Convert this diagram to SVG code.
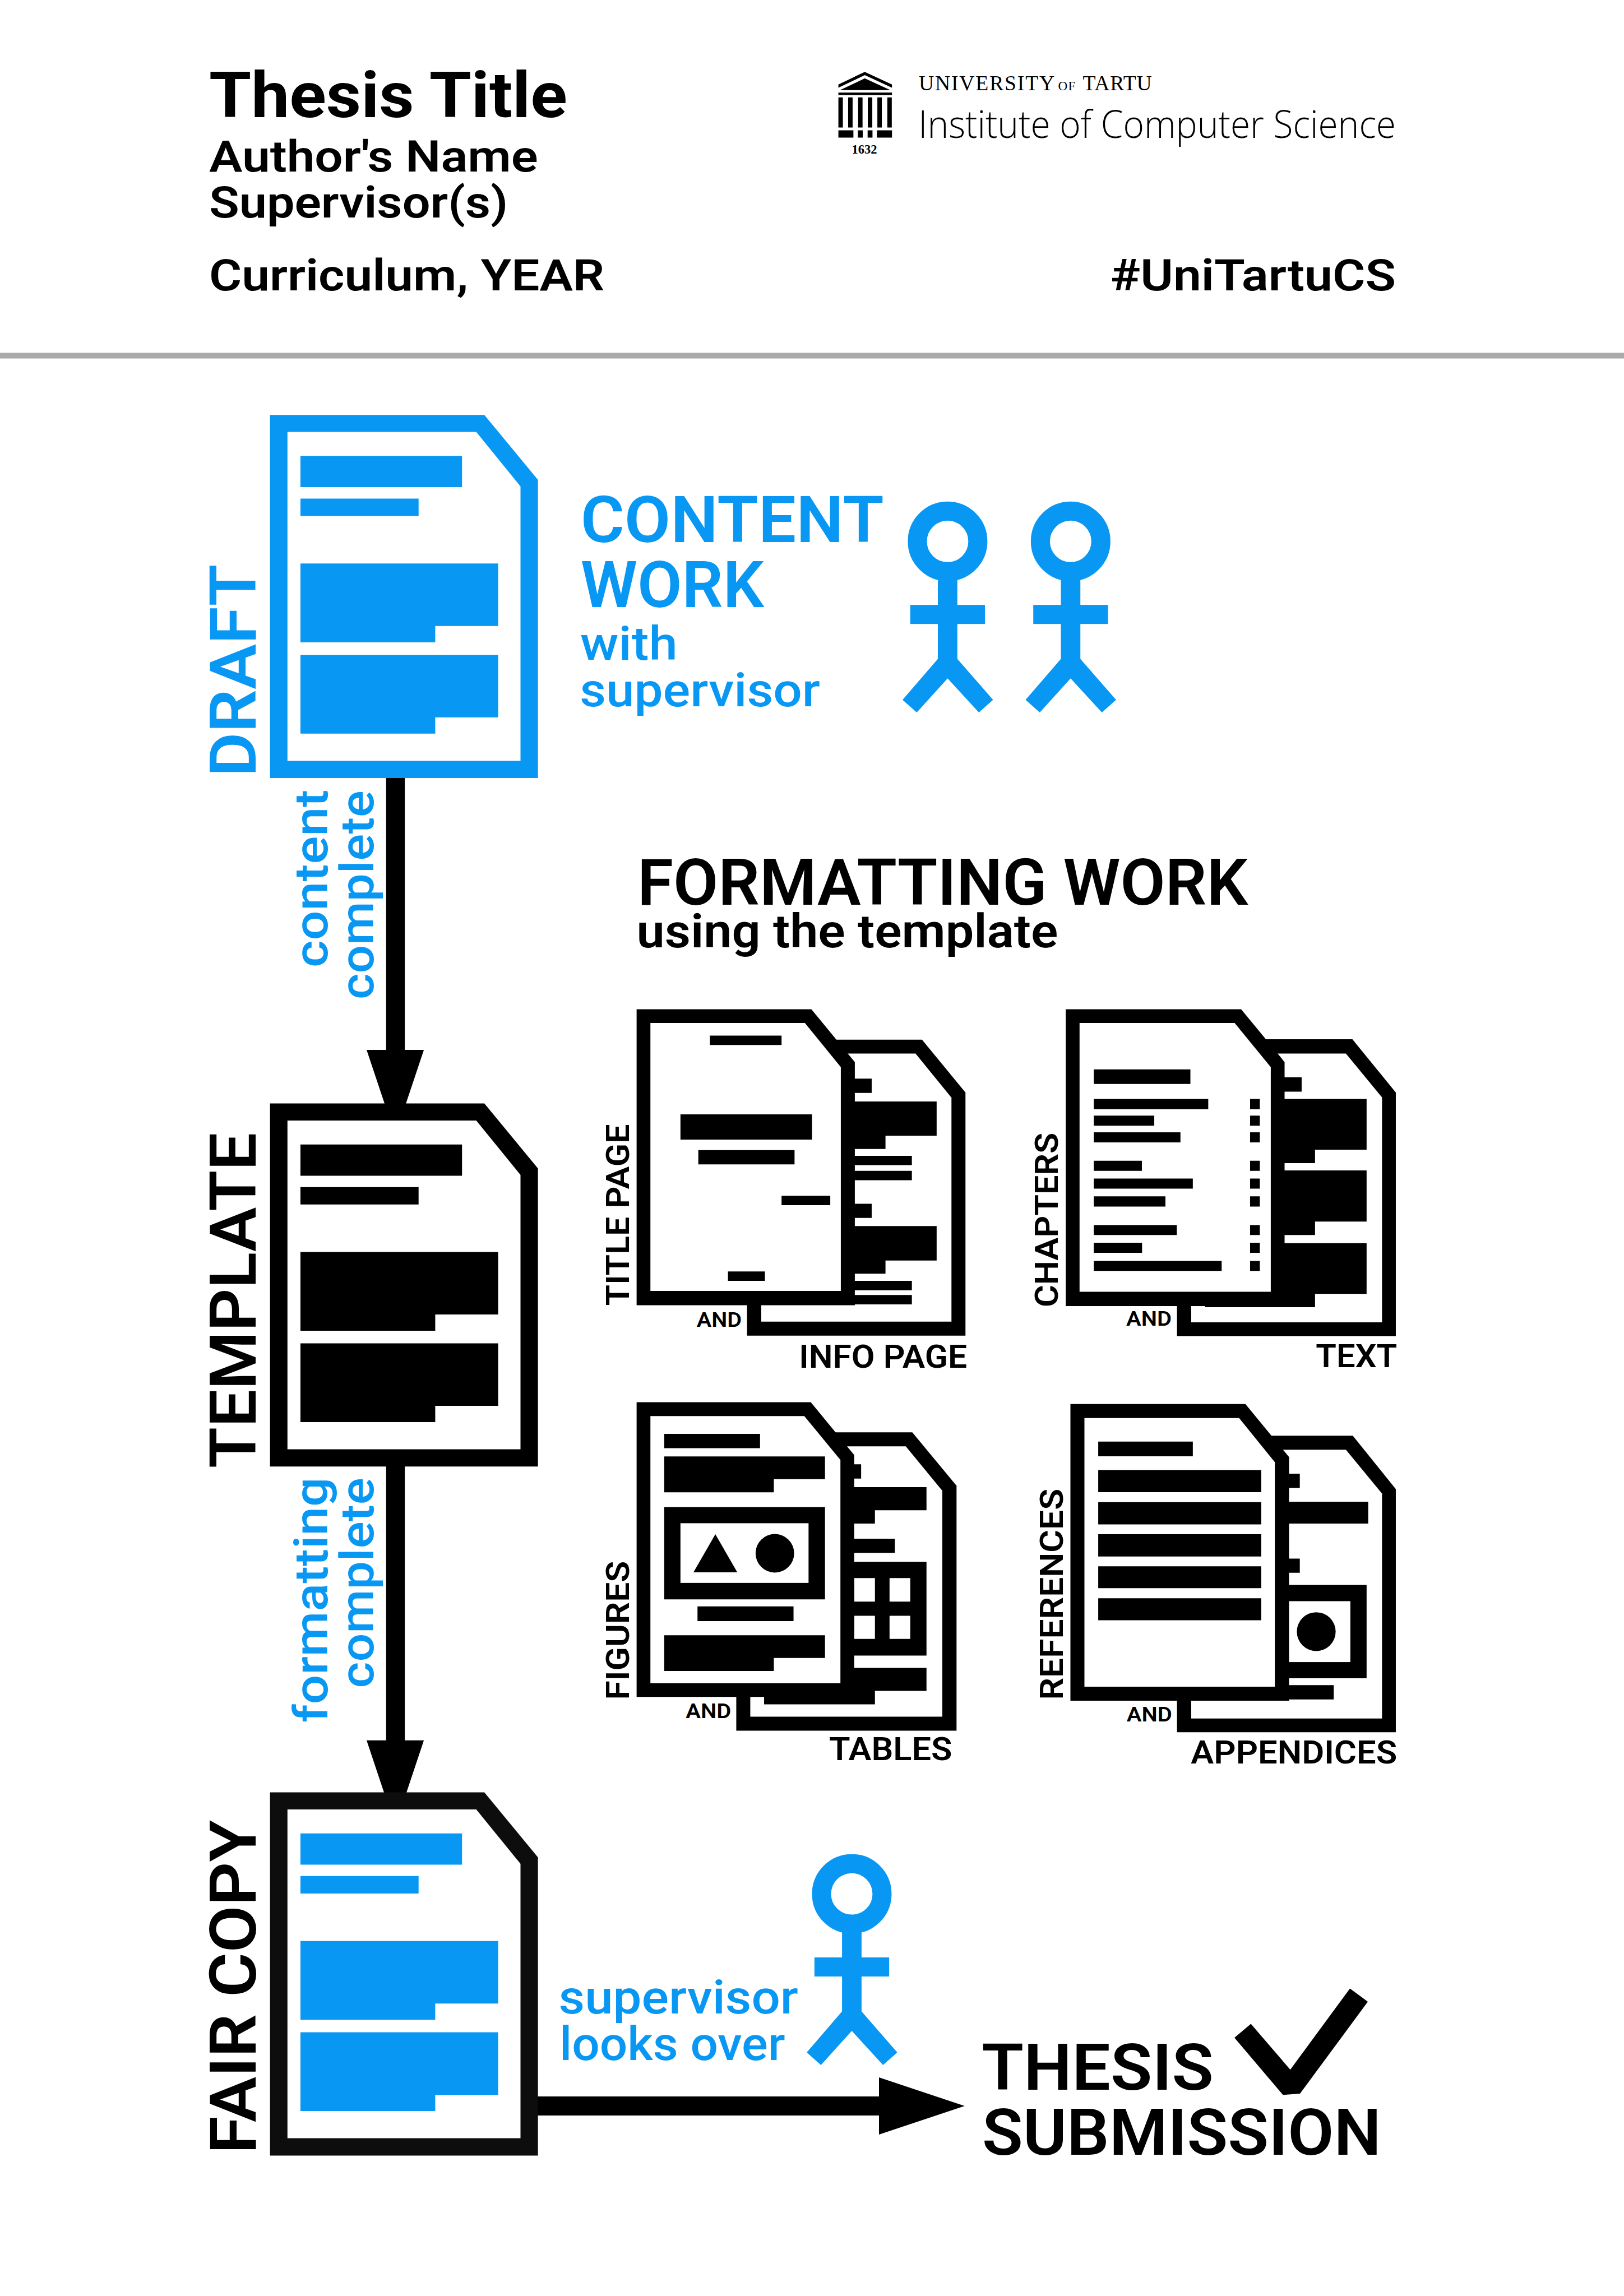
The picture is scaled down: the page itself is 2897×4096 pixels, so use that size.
<svg xmlns="http://www.w3.org/2000/svg" width="2897" height="4096" viewBox="0 0 2897 4096">
<style>
.t{font-family:Roboto,"Liberation Sans",sans-serif;font-weight:500}
.b{fill:#0897f3}
.k{fill:#000}
.w{fill:#fff}
.f{fill:#0d0d0d}
.h1{font-size:157px;font-weight:700}
.h2{font-size:108px;font-weight:600}
.big{font-size:158px;font-weight:600}
.mid{font-size:116px;font-weight:500}
.sub{font-size:116px;font-weight:600}
.side{font-size:158px;font-weight:600}
.lab{font-size:80px;font-weight:600}
.and{font-size:52px;font-weight:600}
</style>
<defs>
<path id="bigOuter" d="M665 1022H1193L1325 1182V1916.500H665Z"/>
<path id="bigInner" d="M708 1064H1173L1282 1198V1874H708Z"/>
<path id="bigBars" d="M740 1123H1138V1200H740ZM740 1228H1031V1271H740ZM740 1388H1227V1542H1072V1582H740ZM740 1613H1227V1767H1072V1807H740Z"/>
<g id="person">
<circle cx="2334" cy="1333.500" r="74.500" fill="none" stroke="#0897f3" stroke-width="47"/>
<rect class="b" x="2310" y="1400" width="48" height="230"/>
<rect class="b" x="2242" y="1490" width="184" height="47"/>
<path class="b" d="M2310 1623L2223 1724L2258 1755L2334 1671L2411 1755L2446 1724L2358 1623Z"/>
</g>
</defs>
<rect class="w" width="2897" height="4096"/>
<g transform="scale(0.72425)">
<g id="header">
<text class="t h1" x="515" y="289" textLength="882" lengthAdjust="spacingAndGlyphs">Thesis Title</text>
<text class="t h2" x="515" y="422" textLength="810" lengthAdjust="spacingAndGlyphs">Author's Name</text>
<text class="t h2" x="515" y="536" textLength="736" lengthAdjust="spacingAndGlyphs">Supervisor(s)</text>
<text class="t h2" x="515" y="715" textLength="974" lengthAdjust="spacingAndGlyphs">Curriculum, YEAR</text>
<text class="t h2" x="2735" y="715" textLength="703" lengthAdjust="spacingAndGlyphs">#UniTartuCS</text>
<rect x="0" y="869" width="4000" height="14" fill="#aaaaaa"/>
</g>
<g id="logo">
<path class="k" d="M2130 177L2197 208V216L2130 185L2065 216V208Z"/>
<path class="k" d="M2130 193L2193 222H2069Z"/>
<rect class="k" x="2065" y="228" width="132" height="6"/>
<path class="k" d="M2065 240h11v74h-11ZM2089 240h11v74h-11ZM2113.500 240h11v74h-11ZM2137.500 240h11v74h-11ZM2161 240h11v74h-11ZM2185.500 240h11v74h-11Z"/>
<path class="k" d="M2065 321h37v18h-37ZM2113 321h12v18h-12ZM2137 321h12v18h-12ZM2160 321h37v18h-37Z"/>
<text x="2098" y="378" font-family="Liberation Serif,serif" font-size="32" font-weight="700" textLength="62" lengthAdjust="spacingAndGlyphs">1632</text>
<text font-family="Liberation Serif,serif" y="222"><tspan x="2263" font-size="52" letter-spacing="2.500">UNIVERSITY</tspan><tspan x="2606" font-size="32" letter-spacing="2">OF</tspan><tspan x="2667" font-size="52" letter-spacing="1">TARTU</tspan></text>
<text x="2262" y="339" font-family="Open Sans,sans-serif" font-weight="300" font-size="94" textLength="1176" lengthAdjust="spacingAndGlyphs">Institute of Computer Science</text>
</g>
<g id="connectors">
<path class="k" d="M951 1900H997V2586H1044L973.500 2797L903 2586H951Z"/>
<path class="k" d="M951 3600H997V4287H1044L973.500 4498L903 4287H951Z"/>
<path class="k" d="M1320 5164H2165V5117L2376 5187.500L2165 5258V5211H1320Z"/>
</g>
<g id="draft">
<use href="#bigOuter" class="b"/><use href="#bigInner" class="w"/><use href="#bigBars" class="b"/>
<text class="t side b" transform="translate(630,1913) rotate(-90)" textLength="523" lengthAdjust="spacingAndGlyphs">DRAFT</text>
</g>
<g id="template">
<g transform="translate(0,1696)"><use href="#bigOuter" class="k"/><use href="#bigInner" class="w"/><use href="#bigBars" class="k"/></g>
<text class="t side k" transform="translate(630,3616) rotate(-90)" textLength="826" lengthAdjust="spacingAndGlyphs">TEMPLATE</text>
</g>
<g id="fair-copy">
<g transform="translate(0,3393)"><use href="#bigOuter" class="f"/><use href="#bigInner" class="w"/><use href="#bigBars" class="b"/></g>
<text class="t side k" transform="translate(630,5305) rotate(-90)" textLength="822" lengthAdjust="spacingAndGlyphs">FAIR COPY</text>
</g>
<g id="edge-labels">
<text class="t mid b" transform="translate(806,2383) rotate(-90)" textLength="438" lengthAdjust="spacingAndGlyphs">content</text>
<text class="t mid b" transform="translate(919,2462) rotate(-90)" textLength="515" lengthAdjust="spacingAndGlyphs">complete</text>
<text class="t mid b" transform="translate(806,4243) rotate(-90)" textLength="604" lengthAdjust="spacingAndGlyphs">formatting</text>
<text class="t mid b" transform="translate(919,4158) rotate(-90)" textLength="518" lengthAdjust="spacingAndGlyphs">complete</text>
</g>
<g id="content-work">
<text class="t big b" x="1430" y="1335" textLength="747" lengthAdjust="spacingAndGlyphs">CONTENT</text>
<text class="t big b" x="1430" y="1496" textLength="452" lengthAdjust="spacingAndGlyphs">WORK</text>
<text class="t mid b" x="1429" y="1625" textLength="240" lengthAdjust="spacingAndGlyphs">with</text>
<text class="t mid b" x="1428" y="1740" textLength="592" lengthAdjust="spacingAndGlyphs">supervisor</text>
<use href="#person"/>
<use href="#person" x="303"/>
</g>
<g id="formatting-work">
<text class="t big k" x="1570" y="2229" textLength="1504" lengthAdjust="spacingAndGlyphs">FORMATTING WORK</text>
<text class="t sub k" x="1568" y="2334" textLength="1038" lengthAdjust="spacingAndGlyphs">using the template</text>
</g>
<g id="title-info">
<path class="k" d="M1840 2561H2271L2378 2691V3290H1840Z"/>
<path class="w" d="M1875 2595H2255L2343.500 2704V3255.500H1875Z"/>
<path class="k" d="M1900 2657H2147V2692H1900ZM1900 2713H2307V2797.500H2181V2830H1900ZM1900 2847H2246V2870H1900ZM1900 2884H2246V2907H1900ZM1900 2965H2147V3000H1900ZM1900 3020H2307V3105H2181V3137.500H1900ZM1900 3155H2246V3178H1900ZM1900 3190H2246V3213H1900Z"/>
<path class="k" d="M1568 2486H1998.500L2105.500 2616V3215H1568Z"/>
<path class="w" d="M1602 2520H1982.500L2071 2628.500V3180H1602Z"/>
<path class="k" d="M1748.500 2551H1925V2574H1748.500ZM1676 2745H2000V2807H1676ZM1720 2833H1957V2868H1720ZM1925 2945.500H2045V2968.500H1925ZM1793 3132H1884V3155H1793Z"/>
<text class="t lab k" transform="translate(1549,3216) rotate(-90)" textLength="447" lengthAdjust="spacingAndGlyphs">TITLE PAGE</text>
<text class="t and k" x="1716" y="3268" textLength="111" lengthAdjust="spacingAndGlyphs">AND</text>
<text class="t lab k" x="1968" y="3369" textLength="414" lengthAdjust="spacingAndGlyphs">INFO PAGE</text>
</g>
<g id="chapters-text">
<path class="k" d="M2899 2560H3331L3438 2691V3291H2899Z"/>
<path class="w" d="M2934 2595H3315L3404 2703V3257H2934Z"/>
<path class="k" d="M2968 2653.500H3206V2689H2968ZM2968 2707H3366V2832H3239V2865H2968ZM2968 2883H3366V3009H3239V3042H2968ZM2968 3062H3366V3187H3239V3220H2968Z"/>
<path class="k" d="M2625 2486H3057L3164 2616V3217H2625Z"/>
<path class="w" d="M2659 2520H3041L3130 2628.500V3182H2659Z"/>
<path class="k" d="M2694 2634H2932V2670H2694ZM2694 2707H2976V2732H2694ZM2694 2748H2843V2773H2694ZM2694 2789H2907.500V2814H2694ZM2694 2859H2812.500V2884H2694ZM2694 2903H2938V2928H2694ZM2694 2947H2870.500V2972H2694ZM2694 3017.500H2898.500V3042H2694ZM2694 3061H2813V3086H2694ZM2694 3106H3009V3130.500H2694Z"/>
<path class="k" d="M3079 2707h24v25h-24ZM3079 2748h24v25h-24ZM3079 2789h24v25h-24ZM3079 2859h24v25h-24ZM3079 2903h24v25h-24ZM3079 2947h24v25h-24ZM3079 3017.500h24v24.500h-24ZM3079 3061h24v25h-24ZM3079 3106h24v24.500h-24Z"/>
<text class="t lab k" transform="translate(2605,3220) rotate(-90)" textLength="430" lengthAdjust="spacingAndGlyphs">CHAPTERS</text>
<text class="t and k" x="2774" y="3266" textLength="112" lengthAdjust="spacingAndGlyphs">AND</text>
<text class="t lab k" x="3241" y="3368" textLength="200" lengthAdjust="spacingAndGlyphs">TEXT</text>
</g>
<g id="figures-tables">
<path class="k" d="M1813.500 3528H2247L2356 3659.500V4263H1813.500Z"/>
<path class="w" d="M1848 3562.500H2231L2321 3672V4228.500H1848Z"/>
<path class="k" d="M1900 3607H2121V3642H1900ZM1900 3663H2282V3720H2155V3753H1900ZM1900 3790H2204V3825H1900ZM1900 3847H2282V4078H1900ZM1882 4108.500H2282V4165H2155V4198H1882Z"/>
<path class="w" d="M2104 3887h51v58h-51ZM2191 3887h51v58h-51ZM2104 3980h51v57h-51ZM2191 3980h51v57h-51Z"/>
<path class="k" d="M1568 3454H1997L2104 3584V4180H1568Z"/>
<path class="w" d="M1602 3488H1981L2070 3596V4146H1602Z"/>
<path class="k" d="M1636 3532H1872V3567H1636ZM1636 3587.500H2032V3643.500H1906V3676H1636ZM1636 3712H2032V3939.500H1636ZM1718 3957H1954.500V3993H1718ZM1636 4028H2032V4084H1906V4116H1636Z"/>
<rect class="w" x="1676" y="3752" width="315.500" height="147"/>
<path class="k" d="M1762 3779L1816 3873H1708Z"/>
<circle class="k" cx="1908.500" cy="3826" r="47.500"/>
<text class="t lab k" transform="translate(1549,4187) rotate(-90)" textLength="342" lengthAdjust="spacingAndGlyphs">FIGURES</text>
<text class="t and k" x="1689" y="4232" textLength="112" lengthAdjust="spacingAndGlyphs">AND</text>
<text class="t lab k" x="2042" y="4336" textLength="303" lengthAdjust="spacingAndGlyphs">TABLES</text>
</g>
<g id="references-appendices">
<path class="k" d="M2899 3536.500H3332L3438 3668V4267H2899Z"/>
<path class="w" d="M2934 3571H3315L3404 3679V4233H2934Z"/>
<path class="k" d="M3100 3630H3201.500V3665H3100ZM3100 3699H3370V3753H3100ZM3100 3839H3201.500V3874H3100ZM3100 3904H3366V4134H3100ZM3100 4151H3285V4186H3100Z"/>
<rect class="w" x="3100" y="3944" width="226" height="150"/>
<circle class="k" cx="3242" cy="4019" r="47.800"/>
<path class="k" d="M2636.500 3458.500H3067.500L3175 3589V4189H2636.500Z"/>
<path class="w" d="M2671 3493H3052L3140 3601.500V4154.500H2671Z"/>
<path class="k" d="M2705 3551H2938V3587H2705ZM2705 3621H3106.500V3675.500H2705ZM2705 3700H3106.500V3755H2705ZM2705 3779H3106.500V3834H2705ZM2705 3858H3106.500V3912H2705ZM2705 3937H3106.500V3991H2705Z"/>
<text class="t lab k" transform="translate(2618,4187) rotate(-90)" textLength="520" lengthAdjust="spacingAndGlyphs">REFERENCES</text>
<text class="t and k" x="2775" y="4240.500" textLength="112" lengthAdjust="spacingAndGlyphs">AND</text>
<text class="t lab k" x="2933" y="4344" textLength="508" lengthAdjust="spacingAndGlyphs">APPENDICES</text>
</g>
<g id="supervisor-review">
<text class="t mid b" x="1376" y="4959" textLength="590" lengthAdjust="spacingAndGlyphs">supervisor</text>
<text class="t mid b" x="1378" y="5074" textLength="556" lengthAdjust="spacingAndGlyphs">looks over</text>
<use href="#person" transform="translate(-236,3331.500)"/>
</g>
<g id="thesis-submission">
<text class="t big k" x="2418" y="5147" textLength="571" lengthAdjust="spacingAndGlyphs">THESIS</text>
<text class="t big k" x="2419" y="5308" textLength="983" lengthAdjust="spacingAndGlyphs">SUBMISSION</text>
<path class="k" d="M3040.500 5019.500L3081 4985L3178 5098L3325 4898L3369 4930.500L3202 5157L3160 5160Z"/>
</g>
</g>
</svg>
